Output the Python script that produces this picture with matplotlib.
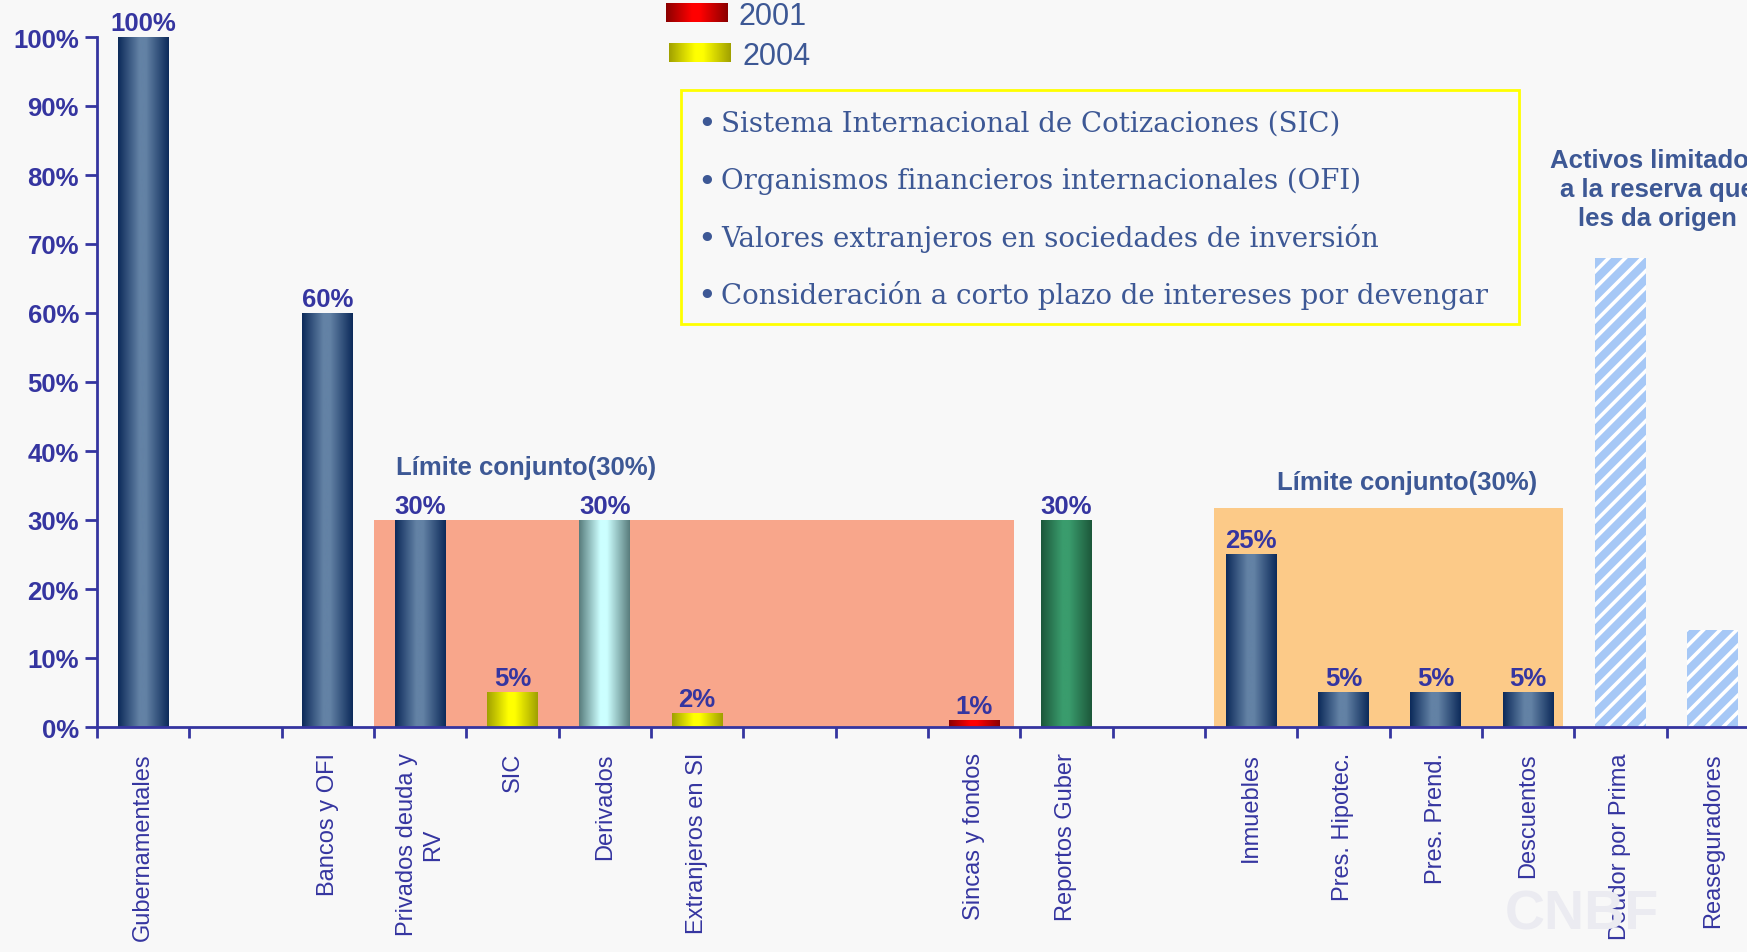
import numpy as np
import matplotlib
matplotlib.use('Agg')
import matplotlib.pyplot as plt
from matplotlib.colors import LinearSegmentedColormap
from matplotlib.patches import Rectangle

# ---- data ----
categories = ['Gubernamentales', '', 'Bancos y OFI', 'Privados deuda y\nRV', 'SIC',
              'Derivados', 'Extranjeros en SI', '', '', 'Sincas y fondos',
              'Reportos Guber', '', 'Inmuebles', 'Pres. Hipotec.', 'Pres. Prend.',
              'Descuentos', 'Deudor por Prima', 'Reaseguradores']
values = [100, 0, 60, 30, 5, 30, 2, 0, 0, 1, 30, 0, 25, 5, 5, 5, 68, 14]
value_labels = ['100%', '', '60%', '30%', '5%', '30%', '2%', '', '', '1%', '30%', '',
                '25%', '5%', '5%', '5%', '', '']
bar_kind = ['navy', None, 'navy', 'navy', '2004', 'cyan', '2004', None, None, '2001',
            'green', None, 'navy', 'navy', 'navy', 'navy', 'hatch', 'hatch']
legend_years = ['2001', '2004']
joint_limit_text = 'Límite conjunto(30%)'
box_lines = ['Sistema Internacional de Cotizaciones (SIC)',
             'Organismos financieros internacionales (OFI)',
             'Valores extranjeros en sociedades de inversión',
             'Consideración a corto plazo de intereses por devengar']
side_note = 'Activos limitados\na la reserva que\nles da origen'

# ---- styling ----
plt.rcParams['font.family'] = ['Liberation Sans', 'DejaVu Sans']
plt.rcParams['hatch.linewidth'] = 2.6
BG = '#f8f8f8'
AX = '#3535a0'
SLATE = '#3d5895'
gradients = {
    'navy': ('#0c2a5a', '#6382a5'),
    '2004': ('#a0a000', '#ffff00'),
    '2001': ('#8a0000', '#ff0000'),
    'cyan': ('#587c7c', '#ccffff'),
    'green': ('#1c573a', '#3a9c6d'),
}


def grad_cmap(kind):
    edge, mid = gradients[kind]
    return LinearSegmentedColormap.from_list(
        kind, [(0, edge), (0.42, mid), (0.55, mid), (1, edge)])


fig = plt.figure(figsize=(17.47, 9.53), dpi=100, facecolor=BG)
ax = fig.add_axes([97 / 1747, 1 - 728 / 953, 1662 / 1747, 690 / 953])
ax.set_facecolor('none')

x = np.arange(len(categories))
fracs = np.array(values) / 100

# shaded "joint limit" zones
ax.add_patch(Rectangle((2.5, 0), 9.43 - 2.5, 0.30, facecolor='#f8a68b',
                       edgecolor='none', zorder=1))
ax.add_patch(Rectangle((11.6, 0), 15.38 - 11.6, 0.318, facecolor='#fcca88',
                       edgecolor='none', zorder=1))

bars = ax.bar(x, fracs, width=0.55, color='none', edgecolor='none', zorder=3)
grad = np.linspace(0, 1, 256).reshape(1, -1)
for b, kind, lab in zip(bars, bar_kind, value_labels):
    if kind is None:
        continue
    x0, w, h = b.get_x(), b.get_width(), b.get_height()
    if kind == 'hatch':
        b.set_facecolor('#a6c8f6')
        b.set_edgecolor('white')
        b.set_linewidth(0)
        b.set_hatch('//')
    else:
        ax.imshow(grad, cmap=grad_cmap(kind), extent=(x0, x0 + w, 0, h),
                  aspect='auto', zorder=3, interpolation='bilinear')
    if lab:
        ax.annotate(lab, (x0 + w / 2, h), xytext=(0, 1.5), textcoords='offset points',
                    ha='center', va='bottom', fontsize=18.5, fontweight='bold',
                    color=AX, zorder=5, annotation_clip=False)

ax.text(4.15, 0.377, joint_limit_text, ha='center', va='center', fontsize=18.5,
        fontweight='bold', color=SLATE)
ax.text(13.69, 0.355, joint_limit_text, ha='center', va='center', fontsize=18.5,
        fontweight='bold', color=SLATE)

ax.set_xlim(-0.5, len(categories) - 0.5)
ax.set_ylim(0, 1.0)

# axes look
for s in ['top', 'right']:
    ax.spines[s].set_visible(False)
for s in ['left', 'bottom']:
    ax.spines[s].set_color(AX)
    ax.spines[s].set_linewidth(2)
ax.spines['bottom'].set_zorder(6)

ax.set_yticks(np.arange(0, 1.01, 0.1))
ax.set_yticklabels([f'{v}%' for v in range(0, 101, 10)], fontsize=18.5,
                   fontweight='bold', color=AX)
ax.tick_params(axis='y', length=9, width=2, color=AX, pad=4)

ax.set_xticks(np.arange(len(categories) + 1) - 0.5)
ax.set_xticklabels([])
ax.tick_params(axis='x', which='major', length=8, width=2, color=AX, direction='out')
ax.set_xticks(x, minor=True)
ax.set_xticklabels(categories, minor=True, rotation=90, fontsize=17, color=AX,
                   va='top', ha='center', multialignment='center')
ax.tick_params(axis='x', which='minor', length=0, pad=18)

# legend swatches
for i, (yr, kind) in enumerate(zip(legend_years, ['2001', '2004'])):
    left = (666 + 3 * i) / 1747
    bottom = 1 - (23 + 40 * i) / 953
    sw = fig.add_axes([left, bottom, 62 / 1747, 19 / 953])
    sw.imshow(grad, cmap=grad_cmap(kind), aspect='auto')
    sw.set_axis_off()
    fig.text((739 + 3 * i) / 1747, 1 - (17 + 40 * i) / 953, yr, fontsize=22,
             color=SLATE, va='center', ha='left')

# yellow framed note box
fig.patches.append(Rectangle((681 / 1747, 1 - 325 / 953), 838 / 1747, 234 / 953,
                             transform=fig.transFigure, facecolor='none',
                             edgecolor='#ffff00', linewidth=2))
for i, line in enumerate(box_lines):
    yy = 1 - (124 + 57.3 * i) / 953
    fig.text(707 / 1747, yy, '•', family=['DejaVu Serif'], fontsize=19,
             fontweight='bold', color=SLATE, va='center', ha='center')
    fig.text(721 / 1747, yy, line, family=['DejaVu Serif'], fontsize=19.9,
             color=SLATE, va='center', ha='left')

fig.text(1657 / 1747, 1 - 190 / 953, side_note, ha='center', va='center',
         fontsize=18.5, fontweight='bold', color=SLATE, linespacing=1.25)

# faint watermark
fig.text(1505 / 1747, 1 - 915 / 953, 'CNBF', fontsize=40, fontweight='bold',
         color='#ebebf1', va='center', ha='left', zorder=0)

fig.savefig('out.png', dpi=100, facecolor=BG)
